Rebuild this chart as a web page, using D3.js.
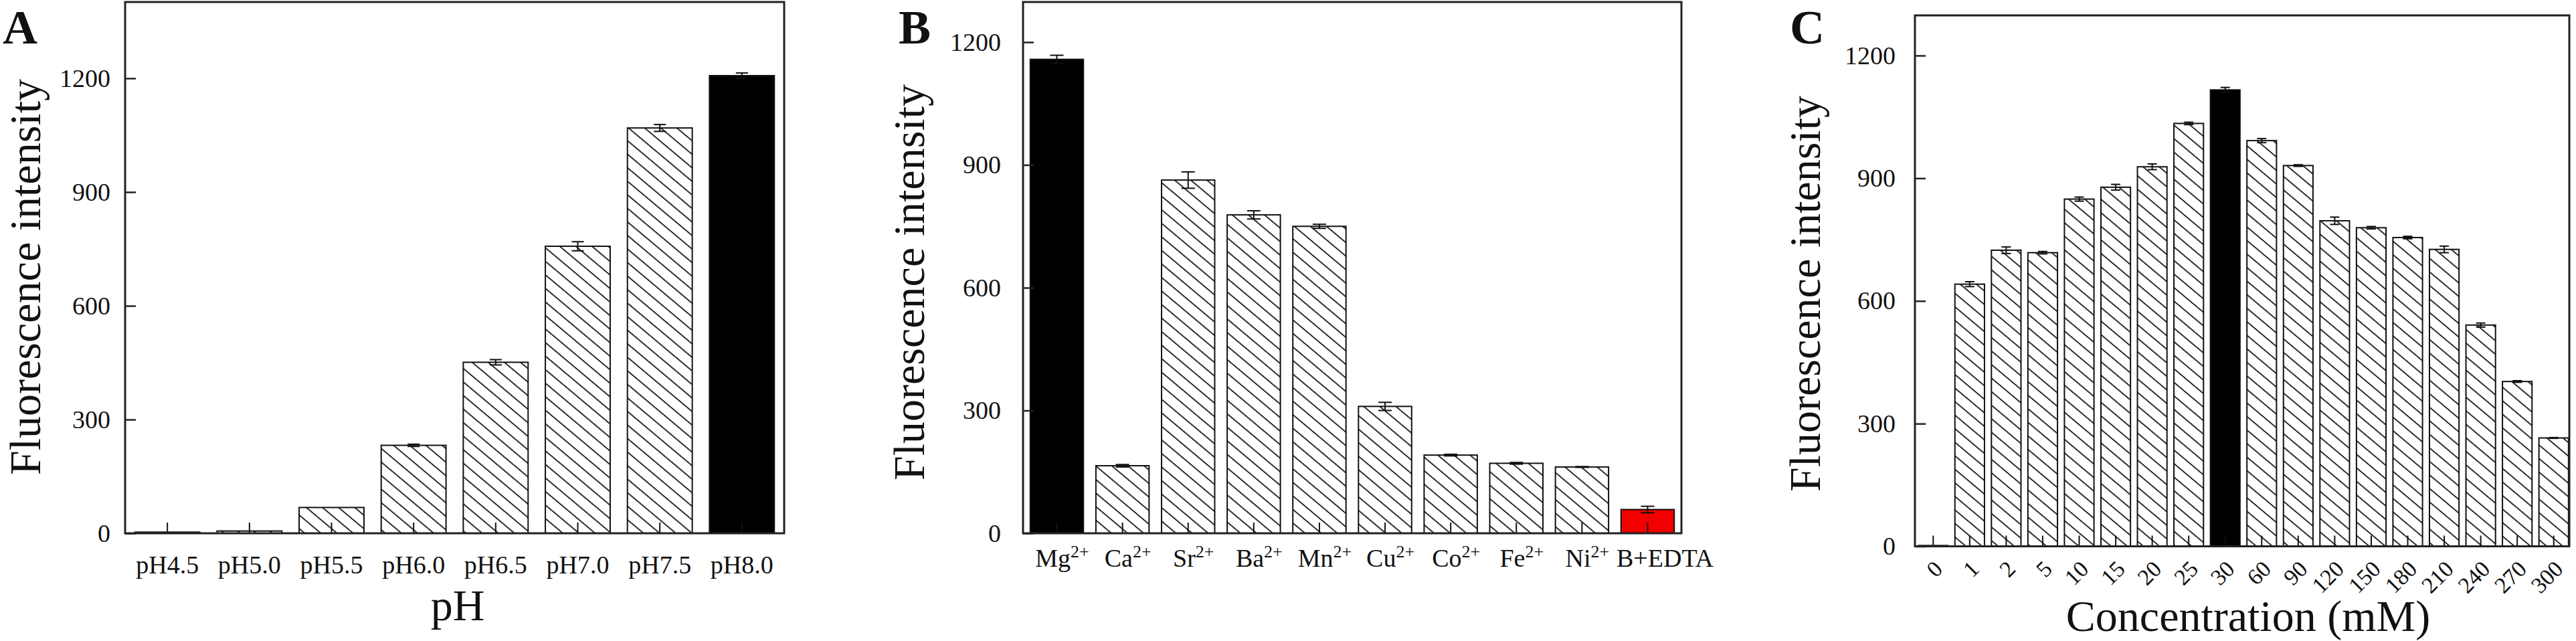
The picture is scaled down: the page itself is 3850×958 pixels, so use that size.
<!DOCTYPE html>
<html>
<head>
<meta charset="utf-8">
<script src="https://cdn.jsdelivr.net/npm/d3@7"></script>
<style>
  html, body { margin: 0; padding: 0; background: #fff; }
  svg { display: block; }
  text { font-family: "Liberation Serif", "Times New Roman", serif; fill: #111; }
</style>
</head>
<body>
<svg id="chart" width="3850" height="958"></svg>
<script>
// ---------------- DATA ----------------
const yTicks = [0, 300, 600, 900, 1200];

// Panel A: pH
const phLabels = ["pH4.5", "pH5.0", "pH5.5", "pH6.0", "pH6.5", "pH7.0", "pH7.5", "pH8.0"];
const phValues = [3, 6, 68, 232, 451, 757, 1069, 1207];
const phErrors = [0, 0, 0, 3, 7, 12, 9, 7];

// Panel B: metal ions
const ionNames   = ["Mg", "Ca", "Sr", "Ba", "Mn", "Cu", "Co", "Fe", "Ni", "B+EDTA"];
const ionCharges = ["2+", "2+", "2+", "2+", "2+", "2+", "2+", "2+", "2+", ""];
const ionValues  = [1158, 165, 863, 778, 750, 310, 191, 171, 162, 58];
const ionErrors  = [10, 3, 20, 10, 5, 10, 2, 2, 1, 8];

// Panel C: concentration (mM)
const concLabels = ["0", "1", "2", "5", "10", "15", "20", "25", "30", "60", "90", "120", "150", "180", "210", "240", "270", "300"];
const concValues = [2, 641, 724, 718, 849, 878, 928, 1034, 1116, 992, 931, 796, 779, 755, 726, 541, 403, 265];
const concErrors = [0, 6, 8, 3, 5, 7, 7, 3, 6, 5, 2, 9, 3, 3, 8, 5, 2, 1];

// ---------------- DRAW ----------------
const svg = d3.select("#chart");
svg.append("rect").attr("width", 3850).attr("height", 958).attr("fill", "#fff");

const defs = svg.append("defs");
const pat = defs.append("pattern")
  .attr("id", "hatch")
  .attr("patternUnits", "userSpaceOnUse")
  .attr("width", 15.5).attr("height", 15.5)
  .attr("patternTransform", "rotate(-50)");
pat.append("rect").attr("width", 15.5).attr("height", 15.5).attr("fill", "#fff");
pat.append("line").attr("x1", 7.75).attr("x2", 7.75).attr("y1", 0).attr("y2", 15.5)
  .attr("stroke", "#1a1a1a").attr("stroke-width", 1.8);

function drawPanel(cfg) {
  const g = svg.append("g");
  const n = cfg.values.length;
  const rows = cfg.values.map((v, i) => ({ i, v, e: cfg.errors[i] }));
  const x = d3.scaleBand().domain(d3.range(n))
    .range([cfg.bandL, cfg.bandR]).paddingInner(cfg.pi).paddingOuter(cfg.po);
  const y = d3.scaleLinear().domain([0, 1200]).range([cfg.bottom, cfg.y1200]);
  const cx = d => x(d.i) + x.bandwidth() / 2;

  // bars
  g.selectAll("rect.bar").data(rows).join("rect")
    .attr("class", "bar")
    .attr("x", d => x(d.i))
    .attr("y", d => y(d.v))
    .attr("width", x.bandwidth())
    .attr("height", d => y(0) - y(d.v))
    .attr("fill", d => cfg.fill(d.i))
    .attr("stroke", "#111")
    .attr("stroke-width", 2);

  // error bars
  const eb = g.selectAll("g.err").data(rows.filter(d => d.e > 0)).join("g").attr("class", "err");
  eb.append("line")
    .attr("x1", cx).attr("x2", cx)
    .attr("y1", d => y(d.v - d.e))
    .attr("y2", d => y(d.v + d.e))
    .attr("stroke", "#111").attr("stroke-width", 2);
  [1, -1].forEach(s => {
    eb.append("line")
      .attr("x1", d => cx(d) - cfg.cap / 2)
      .attr("x2", d => cx(d) + cfg.cap / 2)
      .attr("y1", d => y(d.v + s * d.e))
      .attr("y2", d => y(d.v + s * d.e))
      .attr("stroke", "#111").attr("stroke-width", 2);
  });

  // y axis (inward ticks)
  const ya = g.append("g").attr("transform", `translate(${cfg.left},0)`)
    .call(d3.axisLeft(y).tickValues(yTicks).tickFormat(d3.format("d"))
      .tickSizeInner(-16).tickSizeOuter(0).tickPadding(cfg.yPad));
  ya.select(".domain").remove();
  ya.selectAll("line").attr("stroke", "#222").attr("stroke-width", 2.5);
  ya.selectAll("text").attr("font-size", 38).attr("font-family", "Liberation Serif").attr("fill", "#111");

  // x axis (inward ticks at band centres)
  const xa = g.append("g").attr("transform", `translate(0,${cfg.bottom})`)
    .call(d3.axisBottom(x).tickSizeInner(-16).tickSizeOuter(0).tickPadding(cfg.xPad)
      .tickFormat(i => cfg.labels[i]));
  xa.select(".domain").remove();
  xa.selectAll("line").attr("stroke", "#111").attr("stroke-width", 2);
  xa.selectAll("text").attr("font-size", cfg.xFont).attr("font-family", "Liberation Serif").attr("fill", "#111");
  if (cfg.xLabelHook) cfg.xLabelHook(xa);

  // frame
  g.append("rect")
    .attr("x", cfg.left).attr("y", cfg.top)
    .attr("width", cfg.right - cfg.left).attr("height", cfg.bottom - cfg.top)
    .attr("fill", "none").attr("stroke", "#222").attr("stroke-width", 3);

  // y title
  g.append("text")
    .attr("transform", `translate(${cfg.yTitleX},${cfg.yTitleY}) rotate(-90)`)
    .attr("text-anchor", "middle")
    .attr("font-size", 66)
    .text("Fluorescence intensity");

  // x title
  if (cfg.xTitle) {
    g.append("text")
      .attr("x", cfg.xTitleX).attr("y", cfg.xTitleY)
      .attr("text-anchor", "middle").attr("font-size", 66)
      .text(cfg.xTitle);
  }

  // panel letter
  g.append("text")
    .attr("x", cfg.letterX).attr("y", 65)
    .attr("font-family", "Liberation Sans, Arial, sans-serif")
    .attr("font-weight", "bold").attr("font-size", 72).attr("fill", "#000")
    .text(cfg.letter);
}

// Panel A
drawPanel({
  values: phValues, errors: phErrors, labels: phLabels,
  fill: i => phLabels[i] === "pH8.0" ? "#000" : "url(#hatch)",
  left: 187, right: 1172, top: 3, bottom: 797, y1200: 117,
  bandL: 187, bandR: 1172, pi: 0.21, po: 0.12, cap: 18,
  yPad: 22, xPad: 33, xFont: 38,
  yTitleX: 60, yTitleY: 414,
  xTitle: "pH", xTitleX: 684, xTitleY: 927,
  letter: "A", letterX: 4
});

// Panel B
drawPanel({
  values: ionValues, errors: ionErrors, labels: ionNames,
  fill: i => ionNames[i] === "Mg" ? "#000" : (ionNames[i] === "B+EDTA" ? "#f20000" : "url(#hatch)"),
  left: 1529, right: 2513, top: 3, bottom: 797, y1200: 63,
  bandL: 1529, bandR: 2513, pi: 0.19, po: 0.11, cap: 20,
  yPad: 33, xPad: 23, xFont: 38,
  yTitleX: 1381, yTitleY: 422,
  xTitle: null,
  letter: "B", letterX: 1343,
  xLabelHook: xa => {
    xa.selectAll(".tick text").each(function(i) {
      const t = d3.select(this);
      t.text(null).attr("x", ionCharges[i] ? 8 : 26);
      t.append("tspan").text(ionNames[i]);
      if (ionCharges[i]) {
        t.append("tspan").attr("font-size", 26).attr("dy", "-0.55em").text(ionCharges[i]);
      }
    });
  }
});

// Panel C
drawPanel({
  values: concValues, errors: concErrors, labels: concLabels,
  fill: i => concLabels[i] === "30" ? "#000" : "url(#hatch)",
  left: 2862, right: 3840, top: 23, bottom: 816.5, y1200: 83,
  bandL: 2862, bandR: 3844, pi: 0.19, po: 0.095, cap: 14,
  yPad: 29, xPad: 0, xFont: 34,
  yTitleX: 2720, yTitleY: 439,
  xTitle: "Concentration (mM)", xTitleX: 3360, xTitleY: 943,
  letter: "C", letterX: 2675,
  xLabelHook: xa => {
    xa.selectAll(".tick text")
      .attr("y", 0).attr("dy", 0).attr("x", 0)
      .attr("text-anchor", "end")
      .attr("transform", "translate(16,36) rotate(-45)");
  }
});
</script>
</body>
</html>
